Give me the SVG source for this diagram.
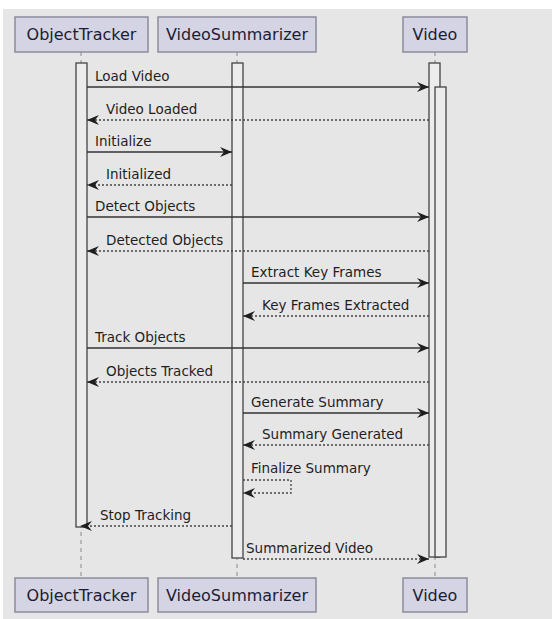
<svg xmlns="http://www.w3.org/2000/svg" width="552" height="619" viewBox="0 0 552 619">
<style>
.bg{fill:#e6e6e6}
.box{fill:#d4d4e4;stroke:#8c8c9c;stroke-width:1.5}
.pt{font-family:"DejaVu Sans",sans-serif;font-size:16px;fill:#1c1c34;text-anchor:middle}
.life{stroke:#8a8a8a;stroke-width:1;stroke-dasharray:4,4;fill:none}
.bar{fill:#ececec;stroke:#444;stroke-width:1.3}
.msg{stroke:#333;stroke-width:1.5;fill:none}
.ret{stroke:#444;stroke-width:1.3;fill:none;stroke-dasharray:2,2}
.lbl{font-family:"DejaVu Sans",sans-serif;font-size:13.5px;fill:#1e1e1e}
</style>
<defs>
<marker id="ah" viewBox="0 0 12 10" refX="12" refY="5" markerWidth="12" markerHeight="10" orient="auto" markerUnits="userSpaceOnUse">
<path d="M0,0 L12,5 L0,10 L4,5 Z" fill="#1e1e1e"/>
</marker>
</defs>
<rect x="0" y="0" width="552" height="619" fill="#ffffff"/>
<rect class="bg" x="3" y="9" width="549" height="610"/>
<g id="lifelines">
<line class="life" x1="81" y1="52" x2="81" y2="578"/>
<line class="life" x1="237" y1="52" x2="237" y2="578"/>
<line class="life" x1="435" y1="52" x2="435" y2="578"/>
</g>
<g id="activations">
<rect class="bar" x="76" y="63" width="11" height="464"/>
<rect class="bar" x="232" y="63" width="11" height="495"/>
<rect class="bar" x="429" y="63" width="11" height="494"/>
<rect class="bar" x="435" y="87" width="11" height="470"/>
</g>
<g id="connectors">
<line class="msg" x1="87" y1="87" x2="429" y2="87" marker-end="url(#ah)"/>
<text class="lbl" x="95" y="81">Load Video</text>
<line class="ret" x1="429" y1="120" x2="87" y2="120" marker-end="url(#ah)"/>
<text class="lbl" x="106" y="114">Video Loaded</text>
<line class="msg" x1="87" y1="152" x2="232" y2="152" marker-end="url(#ah)"/>
<text class="lbl" x="95" y="146">Initialize</text>
<line class="ret" x1="232" y1="185" x2="87" y2="185" marker-end="url(#ah)"/>
<text class="lbl" x="106" y="179">Initialized</text>
<line class="msg" x1="87" y1="217" x2="429" y2="217" marker-end="url(#ah)"/>
<text class="lbl" x="95" y="211">Detect Objects</text>
<line class="ret" x1="429" y1="251" x2="87" y2="251" marker-end="url(#ah)"/>
<text class="lbl" x="106" y="245">Detected Objects</text>
<line class="msg" x1="243" y1="283" x2="429" y2="283" marker-end="url(#ah)"/>
<text class="lbl" x="251" y="277">Extract Key Frames</text>
<line class="ret" x1="429" y1="316" x2="243" y2="316" marker-end="url(#ah)"/>
<text class="lbl" x="262" y="310">Key Frames Extracted</text>
<line class="msg" x1="87" y1="348" x2="429" y2="348" marker-end="url(#ah)"/>
<text class="lbl" x="95" y="342">Track Objects</text>
<line class="ret" x1="429" y1="382" x2="87" y2="382" marker-end="url(#ah)"/>
<text class="lbl" x="106" y="376">Objects Tracked</text>
<line class="msg" x1="243" y1="413" x2="429" y2="413" marker-end="url(#ah)"/>
<text class="lbl" x="251" y="407">Generate Summary</text>
<line class="ret" x1="429" y1="445" x2="243" y2="445" marker-end="url(#ah)"/>
<text class="lbl" x="262" y="439">Summary Generated</text>
<path class="ret" d="M243,480 H291 V493 H243" marker-end="url(#ah)"/>
<text class="lbl" x="251" y="473">Finalize Summary</text>
<line class="ret" x1="232" y1="526" x2="80" y2="526" marker-end="url(#ah)"/>
<text class="lbl" x="100" y="520">Stop Tracking</text>
<line class="ret" x1="243" y1="559" x2="429" y2="559" marker-end="url(#ah)"/>
<text class="lbl" x="246" y="553">Summarized Video</text>
</g>
<g id="ObjectTracker">
<rect class="box" x="15" y="17" width="133" height="35"/>
<text class="pt" x="81.5" y="40">ObjectTracker</text>
<rect class="box" x="15" y="578" width="133" height="34"/>
<text class="pt" x="81.5" y="601">ObjectTracker</text>
</g>
<g id="VideoSummarizer">
<rect class="box" x="158" y="17" width="158" height="35"/>
<text class="pt" x="237" y="40">VideoSummarizer</text>
<rect class="box" x="158" y="578" width="158" height="34"/>
<text class="pt" x="237" y="601">VideoSummarizer</text>
</g>
<g id="Video">
<rect class="box" x="403" y="17" width="64" height="35"/>
<text class="pt" x="435" y="40">Video</text>
<rect class="box" x="403" y="578" width="64" height="34"/>
<text class="pt" x="435" y="601">Video</text>
</g>
</svg>
